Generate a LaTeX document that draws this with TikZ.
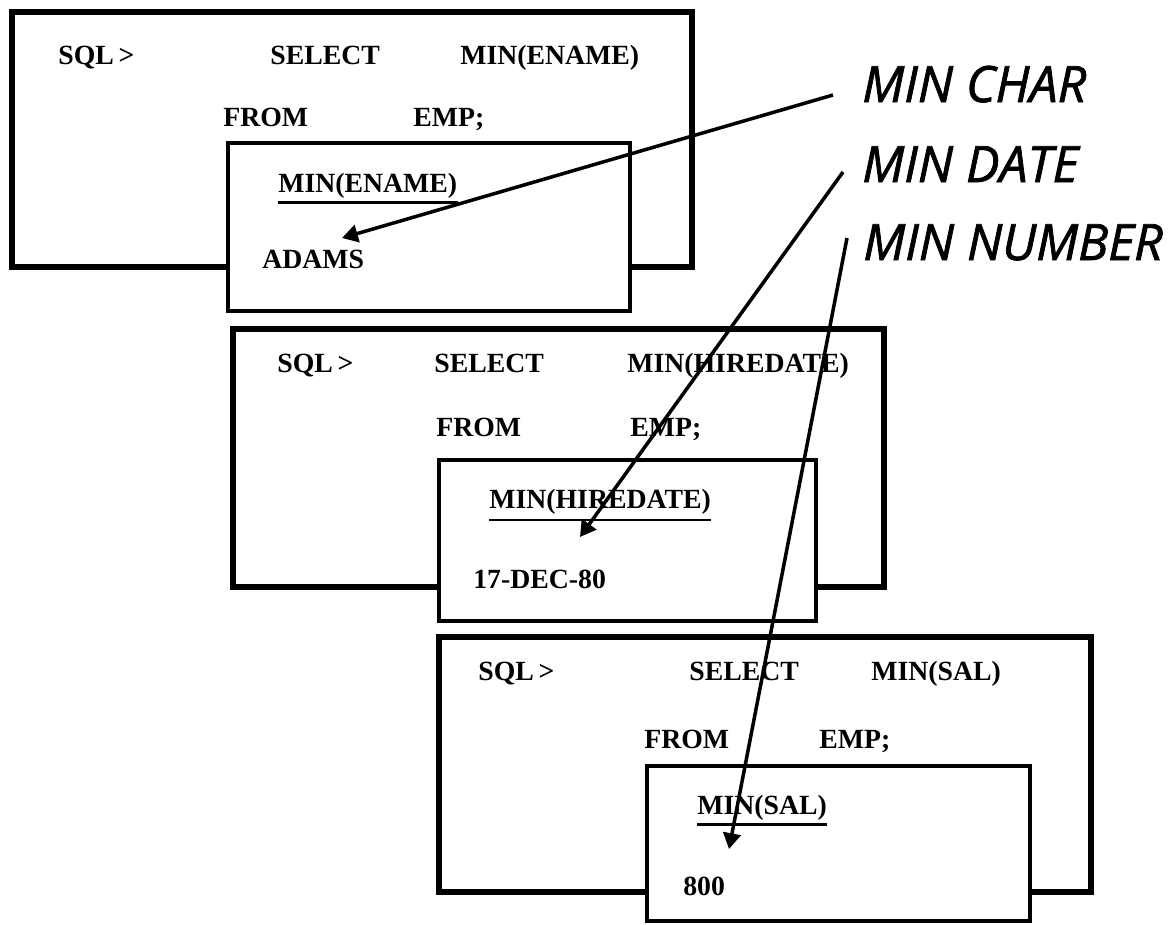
\documentclass[tikz,border=0pt]{standalone}
\usepackage{fontspec}
\usepackage{tikz}
\usetikzlibrary{arrows.meta,positioning}
\newfontfamily\sqlfont{Liberation Serif}
\newfontfamily\tagfont{Open Sans}[ItalicFeatures={FakeBold=1.5}]

\begin{document}
\begin{tikzpicture}[
        x=0.02cm,y=-0.02cm,
        outbox/.style={draw,line width=3pt},
        resbox/.style={draw,line width=2.6pt,fill=white},
        sql/.style={anchor=base west,inner sep=0pt,font=\sqlfont\bfseries\fontsize{15.8}{19}\selectfont},
        ulin/.style={line width=1.2pt},
        lbl/.style={anchor=base west,inner sep=0pt,font=\tagfont\itshape\fontsize{28.5}{32}\selectfont},
        arr/.style={-{Triangle[length=9pt,width=10pt]},line width=2pt},
      ]
        \useasboundingbox (0,0) rectangle (1171,924);
        % first query: MIN(ENAME)
        \draw[outbox](12,12) rectangle (692,267);
        \node[sql](p1) at (58,64) {SQL\,>};
        \node[sql](s1) at (270,64) {SELECT};
        \node[sql](c1) at (460,64) {MIN(ENAME)};
        \node[sql](f1) at (223,126) {FROM};
        \node[sql](t1) at (413,126) {EMP;};
        \draw[resbox](228,143) rectangle (630,311);
        \node[sql](h1) at (278,192) {MIN(ENAME)};
        \draw[ulin]([yshift=-6pt]h1.base west)--([yshift=-6pt]h1.base east);
        \node[sql](v1) at (262,268) {ADAMS};
        % second query: MIN(HIREDATE)
        \draw[outbox](233,329) rectangle (884,587);
        \node[sql](p2) at (277,372) {SQL\,>};
        \node[sql](s2) at (434,372) {SELECT};
        \node[sql](c2) at (627,372) {MIN(HIREDATE)};
        \node[sql](f2) at (436,436) {FROM};
        \node[sql](t2) at (630,436) {EMP;};
        \draw[resbox](439,460) rectangle (816,621);
        \node[sql](h2) at (489,508) {MIN(HIREDATE)};
        \draw[ulin]([yshift=-7pt]h2.base west)--([yshift=-7pt]h2.base east);
        \node[sql](v2) at (473,588) {17-DEC-80};
        % third query: MIN(SAL)
        \draw[outbox](439,637) rectangle (1091,892);
        \node[sql](p3) at (478,680) {SQL\,>};
        \node[sql](s3) at (689,680) {SELECT};
        \node[sql](c3) at (871,680) {MIN(SAL)};
        \node[sql](f3) at (644,748) {FROM};
        \node[sql](t3) at (819,748) {EMP;};
        \draw[resbox](647,766) rectangle (1030,921);
        \node[sql](h3) at (697,814) {MIN(SAL)};
        \draw[ulin]([yshift=-6pt]h3.base west)--([yshift=-6pt]h3.base east);
        \node[sql](v3) at (683,895) {800};
        % labels and arrows
        \node[lbl](mchar) at (862,102) {MIN CHAR};
        \node[lbl](mdate) at (862,182) {MIN DATE};
        \node[lbl](mnum) at (863,260) {MIN NUMBER};
        \coordinate (a1) at (833,95);
        \coordinate (a2) at (843,172);
        \coordinate (a3) at (847,238);
        \coordinate (e1) at (342,238);
        \coordinate (e2) at (580,537);
        \coordinate (e3) at (729,849);
        \draw[arr](a1)--(e1);
        \draw[arr](a2)--(e2);
        \draw[arr](a3)--(e3);
      \end{tikzpicture}
\end{document}
